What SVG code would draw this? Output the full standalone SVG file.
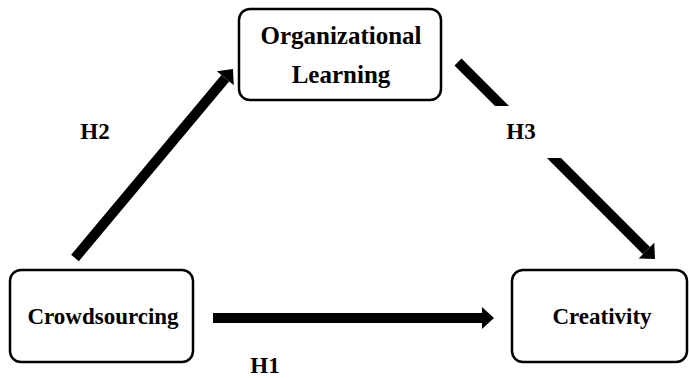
<svg xmlns="http://www.w3.org/2000/svg" width="689" height="378" viewBox="0 0 689 378">
<style>
.box{fill:#fff;stroke:#000;stroke-width:2.5}
.t{font-family:"Liberation Serif","Times New Roman",serif;font-weight:bold;fill:#000;text-anchor:middle}
.arr{stroke:#000;stroke-width:10;fill:none;marker-end:url(#ah)}
</style>
<defs>
<marker id="ah" markerUnits="userSpaceOnUse" markerWidth="14" markerHeight="24" refX="0" refY="11" orient="auto" overflow="visible">
<path d="M0,0 L12,11 L0,22 Z" fill="#000"/>
</marker>
</defs>
<g id="connectors">
<line class="arr" x1="213" y1="318" x2="482" y2="318"/>
<line class="arr" x1="75" y1="258" x2="225.3" y2="78.2"/>
<line class="arr" x1="458" y1="62" x2="646.5" y2="250.6"/>
<rect x="470" y="106" width="130" height="52" fill="#fff"/>
<text class="t" x="95" y="139" font-size="23">H2</text>
<text class="t" x="521" y="139" font-size="23">H3</text>
<text class="t" x="265" y="373" font-size="23">H1</text>
</g>
<g id="organizational-learning">
<rect class="box" x="239" y="9" width="202" height="91" rx="11"/>
<text class="t" x="341" y="44" font-size="25">Organizational</text>
<text class="t" x="341" y="83" font-size="25">Learning</text>
</g>
<g id="crowdsourcing">
<rect class="box" x="10" y="270" width="183" height="92" rx="11"/>
<text class="t" x="103" y="324" font-size="23">Crowdsourcing</text>
</g>
<g id="creativity">
<rect class="box" x="512" y="270" width="175" height="92" rx="11"/>
<text class="t" x="602" y="324" font-size="23">Creativity</text>
</g>
</svg>
